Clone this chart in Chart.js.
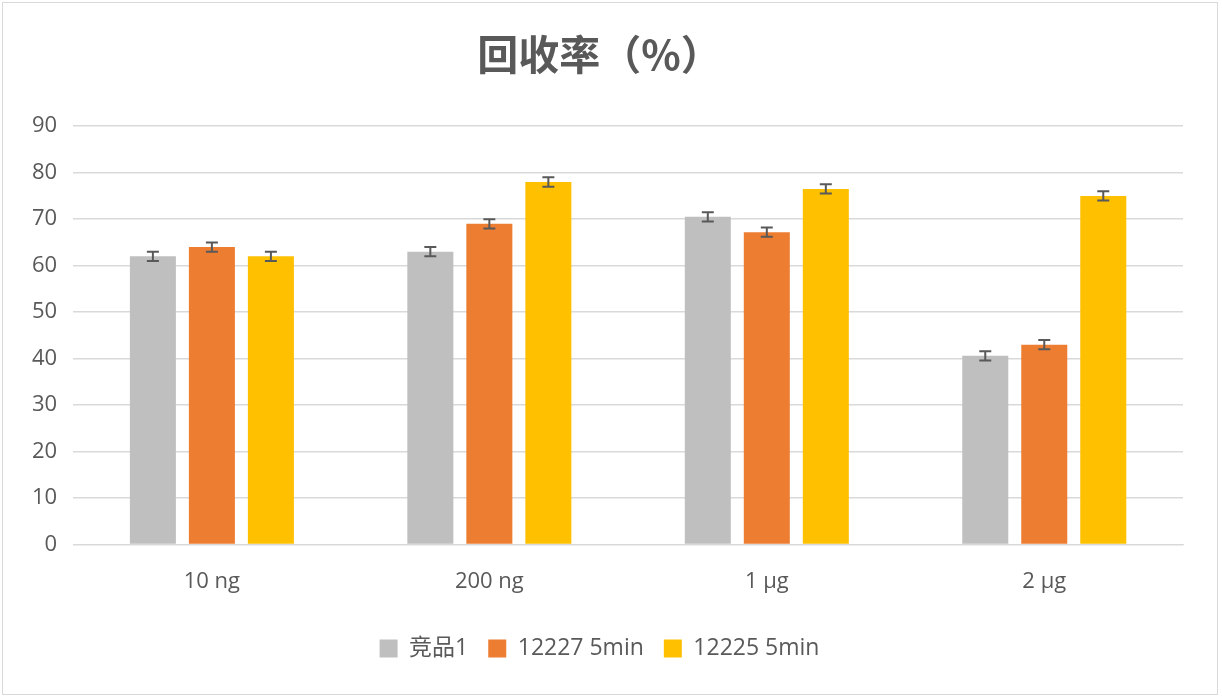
<!DOCTYPE html>
<html>
<head>
<meta charset="utf-8">
<script src="https://cdn.jsdelivr.net/npm/chart.js@4.4.0/dist/chart.umd.min.js"></script>
<style>
  html, body { margin: 0; padding: 0; background: #fff; }
  #wrap { position: absolute; left: 2px; top: 2px; width: 1216px; height: 693px; border: 1px solid #d9d9d9; box-sizing: border-box; }
  #chart { position: absolute; left: 0; top: 0; }
</style>
</head>
<body>
<div id="wrap"><canvas id="chart" width="1214" height="691"></canvas></div>
<script>
// categories and series values
const categories = ['10 ng', '200 ng', '1 µg', '2 µg'];
const seriesNames = ['竞品1', '12227 5min', '12225 5min'];
const competitor = [62, 63, 70.5, 40.6];
const run12227 = [64, 69, 67.2, 43];
const run12225 = [62, 78, 76.5, 75];
const errCompetitor = [1, 1, 1, 1];
const err12227 = [1, 1, 1, 1];
const err12225 = [1, 1, 1, 1];
const yTicks = [0, 10, 20, 30, 40, 50, 60, 70, 80, 90];

const colors = ['#bfbfbf', '#ed7d31', '#ffc000'];
const textColor = '#595959';
const fontFamily = '"Open Sans", "Noto Sans CJK SC", sans-serif';

// Chart.js has no error bars, so draw them on top of each bar
const errorBars = {
    id: 'errorBars',
    afterDatasetsDraw(chart) {
        const ctx = chart.ctx;
        const y = chart.scales.y;
        chart.data.datasets.forEach((ds, i) => {
            const meta = chart.getDatasetMeta(i);
            meta.data.forEach((bar, j) => {
                const v = ds.data[j];
                const e = ds.errors[j];
                const top = y.getPixelForValue(v + e);
                const bottom = y.getPixelForValue(v - e);
                const x = bar.x;
                ctx.save();
                ctx.strokeStyle = '#595959';
                ctx.lineWidth = 2;
                ctx.beginPath();
                ctx.moveTo(x, top); ctx.lineTo(x, bottom);
                ctx.moveTo(x - 6, top); ctx.lineTo(x + 6, top);
                ctx.moveTo(x - 6, bottom); ctx.lineTo(x + 6, bottom);
                ctx.stroke();
                ctx.restore();
            });
        });
    }
};

new Chart(document.getElementById('chart'), {
    type: 'bar',
    data: {
        labels: categories,
        datasets: [
            { label: seriesNames[0], data: competitor, errors: errCompetitor, backgroundColor: colors[0] },
            { label: seriesNames[1], data: run12227, errors: err12227, backgroundColor: colors[1] },
            { label: seriesNames[2], data: run12225, errors: err12225, backgroundColor: colors[2] }
        ]
    },
    options: {
        responsive: false,
        animation: false,
        layout: { padding: { left: 13, right: 34, top: 23, bottom: 24 } },
        datasets: {
            bar: { categoryPercentage: 0.638, barPercentage: 0.78 }
        },
        plugins: {
            title: {
                display: true,
                text: '回收率（%）',
                color: textColor,
                font: { family: '"Noto Sans CJK SC", sans-serif', size: 41, weight: 'bold' },
                padding: { top: 4, bottom: 47 }
            },
            legend: {
                position: 'bottom',
                labels: {
                    color: textColor,
                    font: { family: fontFamily, size: 23 },
                    boxWidth: 18,
                    boxHeight: 18,
                    padding: 20
                }
            },
            tooltip: { enabled: false }
        },
        scales: {
            x: {
                grid: { display: false },
                border: { color: '#d9d9d9', width: 1 },
                ticks: { color: textColor, font: { family: fontFamily, size: 22 }, padding: 16 },
                // extra room between the category labels and the legend
                afterFit(scale) { scale.height += 6; }
            },
            y: {
                min: yTicks[0],
                max: yTicks[yTicks.length - 1],
                afterBuildTicks(scale) { scale.ticks = yTicks.map(v => ({ value: v })); },
                grid: { color: '#d9d9d9', lineWidth: 1.5, drawTicks: false },
                border: { display: false },
                ticks: { color: textColor, font: { family: fontFamily, size: 22 }, padding: 16 }
            }
        }
    },
    plugins: [errorBars]
});
</script>
</body>
</html>
